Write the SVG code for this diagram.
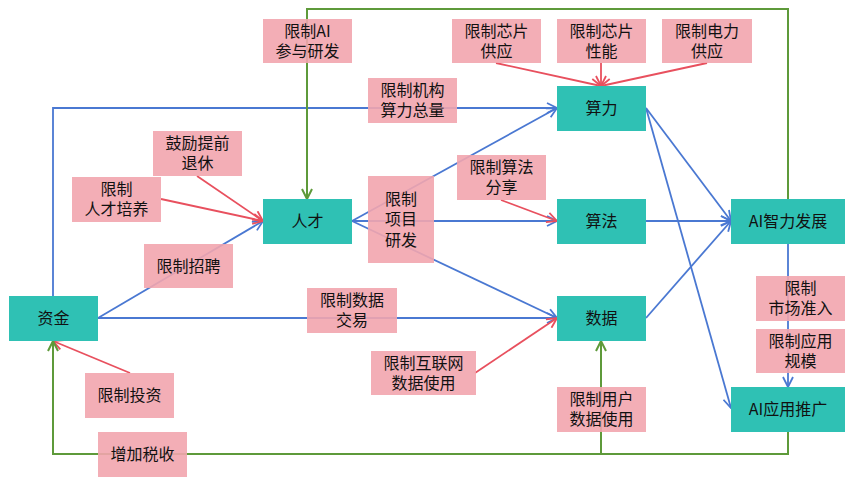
<svg xmlns="http://www.w3.org/2000/svg" width="854" height="480" viewBox="0 0 854 480">
<style>
.node rect{fill:#2FC1B4}
.lab rect{fill:#F2A5AE;fill-opacity:0.9}
text{font-family:"Noto Sans CJK SC","Microsoft YaHei",sans-serif;font-size:16px;fill:#111;text-anchor:middle}
.b{stroke:#4A78D2;stroke-width:1.8;fill:none}
.r{stroke:#E8505E;stroke-width:1.8;fill:none}
.g{stroke:#5E9A3A;stroke-width:2;fill:none}
</style>
<defs>
<marker id="mb" viewBox="0 0 12 12" refX="11" refY="6" markerWidth="12" markerHeight="12" orient="auto" markerUnits="userSpaceOnUse"><path d="M1,1 L11,6 L1,11" fill="none" stroke="#4A78D2" stroke-width="1.8"/></marker>
<marker id="mr" viewBox="0 0 12 12" refX="11" refY="6" markerWidth="12" markerHeight="12" orient="auto" markerUnits="userSpaceOnUse"><path d="M1,1 L11,6 L1,11" fill="none" stroke="#E8505E" stroke-width="1.8"/></marker>
<marker id="mg" viewBox="0 0 12 12" refX="11" refY="6" markerWidth="12" markerHeight="12" orient="auto" markerUnits="userSpaceOnUse"><path d="M1,1 L11,6 L1,11" fill="none" stroke="#5E9A3A" stroke-width="2"/></marker>
</defs>
<rect width="854" height="480" fill="#fff"/>
<g id="connectors">
<path class="b" d="M53,296 V108 H557" marker-end="url(#mb)"/>
<path class="b" d="M98,318 L263,221" marker-end="url(#mb)"/>
<path class="b" d="M98,318 L557,318" marker-end="url(#mb)"/>
<path class="b" d="M352,221 L557,108" marker-end="url(#mb)"/>
<path class="b" d="M352,221 L557,221" marker-end="url(#mb)"/>
<path class="b" d="M352,221 L557,318" marker-end="url(#mb)"/>
<path class="b" d="M646,108 L731,221" marker-end="url(#mb)"/>
<path class="b" d="M646,108 L731,408" marker-end="url(#mb)"/>
<path class="b" d="M646,221 L731,221" marker-end="url(#mb)"/>
<path class="b" d="M646,318 L731,221" marker-end="url(#mb)"/>
<path class="b" d="M788,244 V387" marker-end="url(#mb)"/>
<path class="r" d="M197,176 L263,221" marker-end="url(#mr)"/>
<path class="r" d="M161,199 L263,221" marker-end="url(#mr)"/>
<path class="r" d="M496,63 L601,86" marker-end="url(#mr)"/>
<path class="r" d="M601,63 L601,86" marker-end="url(#mr)"/>
<path class="r" d="M707,63 L601,86" marker-end="url(#mr)"/>
<path class="r" d="M501,200 L557,221" marker-end="url(#mr)"/>
<path class="r" d="M475,373 L557,318" marker-end="url(#mr)"/>
<path class="r" d="M130,373 L53,341" marker-end="url(#mr)"/>
<path class="g" d="M788,199 V9 H307 V199" marker-end="url(#mg)"/>
<path class="g" d="M788,432 V454 H53 V341" marker-end="url(#mg)"/>
<path class="g" d="M601,454 V341" marker-end="url(#mg)"/>
</g>
<g id="n-zijin" class="node"><rect x="9" y="296" width="89" height="45"/><text x="53.5" y="324">资金</text></g>
<g id="n-rencai" class="node"><rect x="263" y="199" width="89" height="45"/><text x="307.5" y="227">人才</text></g>
<g id="n-suanli" class="node"><rect x="557" y="86" width="89" height="45"/><text x="601.5" y="114">算力</text></g>
<g id="n-suanfa" class="node"><rect x="557" y="199" width="89" height="45"/><text x="601.5" y="227">算法</text></g>
<g id="n-shuju" class="node"><rect x="557" y="296" width="89" height="45"/><text x="601.5" y="324">数据</text></g>
<g id="n-aizl" class="node"><rect x="731" y="199" width="114" height="45"/><text x="788" y="227">AI智力发展</text></g>
<g id="n-aiyy" class="node"><rect x="731" y="387" width="114" height="45"/><text x="788" y="415">AI应用推广</text></g>
<g id="l-ai" class="lab"><rect x="263" y="19" width="89" height="44"/><text x="307.5" y="37">限制AI<tspan x="307.5" dy="20">参与研发</tspan></text></g>
<g id="l-jg" class="lab"><rect x="368" y="78" width="89" height="45"/><text x="412.5" y="96">限制机构<tspan x="412.5" dy="20">算力总量</tspan></text></g>
<g id="l-tx" class="lab"><rect x="153" y="131" width="89" height="45"/><text x="197.5" y="149">鼓励提前<tspan x="197.5" dy="20">退休</tspan></text></g>
<g id="l-py" class="lab"><rect x="72" y="177" width="89" height="45"/><text x="116.5" y="195">限制<tspan x="116.5" dy="20">人才培养</tspan></text></g>
<g id="l-xm" class="lab"><rect x="368" y="176" width="66" height="87"/><text x="401" y="204.5">限制<tspan x="401" dy="20.5">项目</tspan><tspan x="401" dy="20.5">研发</tspan></text></g>
<g id="l-xpgy" class="lab"><rect x="452" y="19" width="89" height="44"/><text x="496.5" y="37">限制芯片<tspan x="496.5" dy="20">供应</tspan></text></g>
<g id="l-xpxn" class="lab"><rect x="557" y="19" width="89" height="44"/><text x="601.5" y="37">限制芯片<tspan x="601.5" dy="20">性能</tspan></text></g>
<g id="l-dl" class="lab"><rect x="662" y="19" width="90" height="44"/><text x="707" y="37">限制电力<tspan x="707" dy="20">供应</tspan></text></g>
<g id="l-sf" class="lab"><rect x="457" y="155" width="89" height="45"/><text x="501.5" y="173">限制算法<tspan x="501.5" dy="20">分享</tspan></text></g>
<g id="l-zp" class="lab"><rect x="144" y="244" width="89" height="44"/><text x="188.5" y="271.5">限制招聘</text></g>
<g id="l-sj" class="lab"><rect x="307" y="288" width="90" height="45"/><text x="352" y="306">限制数据<tspan x="352" dy="20">交易</tspan></text></g>
<g id="l-hlw" class="lab"><rect x="371" y="351" width="105" height="44"/><text x="423.5" y="368.5">限制互联网<tspan x="423.5" dy="20">数据使用</tspan></text></g>
<g id="l-tz" class="lab"><rect x="85" y="373" width="89" height="45"/><text x="129.5" y="401">限制投资</text></g>
<g id="l-ss" class="lab"><rect x="98" y="432" width="89" height="45"/><text x="142.5" y="460">增加税收</text></g>
<g id="l-yh" class="lab"><rect x="557" y="387" width="89" height="45"/><text x="601.5" y="405">限制用户<tspan x="601.5" dy="20">数据使用</tspan></text></g>
<g id="l-sc" class="lab"><rect x="756" y="276" width="89" height="45"/><text x="800.5" y="294">限制<tspan x="800.5" dy="20">市场准入</tspan></text></g>
<g id="l-gm" class="lab"><rect x="756" y="329" width="89" height="44"/><text x="800.5" y="346.5">限制应用<tspan x="800.5" dy="20">规模</tspan></text></g>
</svg>
